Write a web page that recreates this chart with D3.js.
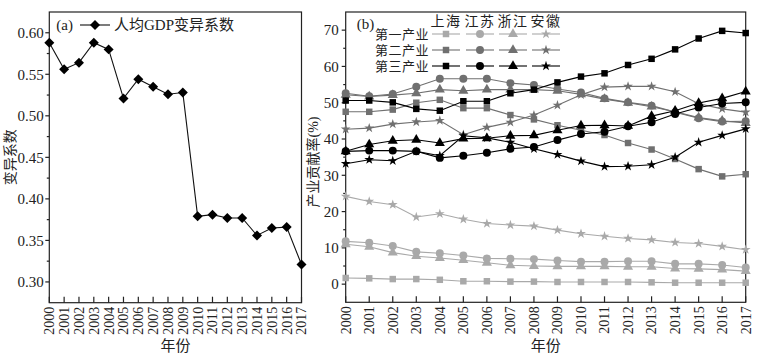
<!DOCTYPE html>
<html><head><meta charset="utf-8">
<script src="https://cdn.jsdelivr.net/npm/d3@7"></script>
<style>
body{margin:0;background:#fff;}
svg{display:block;}
text{font-family:"Liberation Serif","Noto Sans CJK SC",serif;fill:#222;}
</style></head>
<body>
<svg id="c" width="769" height="359"></svg>
<script>
const years = [2000,2001,2002,2003,2004,2005,2006,2007,2008,2009,2010,2011,2012,2013,2014,2015,2016,2017];
const cvGDP = [0.588,0.556,0.564,0.588,0.580,0.521,0.544,0.535,0.526,0.528,0.379,0.381,0.377,0.377,0.356,0.365,0.366,0.321];
const cvTicks = [0.30,0.35,0.40,0.45,0.50,0.55,0.60];

const regions = ["上海","江苏","浙江","安徽"];
const industries = ["第一产业","第二产业","第三产业"];
// 第一产业
const sh1 = [1.7,1.6,1.4,1.4,1.2,0.8,0.8,0.7,0.7,0.6,0.6,0.6,0.6,0.5,0.4,0.4,0.4,0.4];
const js1 = [11.8,11.4,10.5,8.9,8.5,7.9,7.1,7.0,6.9,6.5,6.2,6.2,6.3,6.3,5.6,5.6,5.3,4.6];
const zj1 = [11.0,10.3,8.7,7.7,7.2,6.6,5.9,5.2,5.0,4.9,4.9,4.9,4.8,4.8,4.3,4.2,4.0,3.6];
const ah1 = [24.2,22.8,21.9,18.5,19.4,17.9,16.7,16.3,16.0,14.9,13.9,13.2,12.6,12.2,11.5,11.2,10.4,9.5];
// 第二产业
const sh2 = [47.5,47.5,48.1,50.0,50.8,48.5,48.5,46.6,45.4,43.8,42.4,41.1,38.9,37.1,34.5,31.7,29.7,30.3];
const js2 = [52.6,51.8,52.4,54.4,56.6,56.6,56.6,55.4,54.9,53.8,52.8,51.2,50.1,49.2,47.4,45.7,44.8,44.9];
const zj2 = [52.2,51.7,52.1,52.6,53.6,53.3,53.6,53.6,53.6,53.3,52.3,51.0,50.0,48.9,47.5,45.9,45.0,44.4];
const ah2 = [42.7,43.0,44.1,44.7,45.1,41.2,43.2,44.6,46.6,49.3,52.2,54.3,54.5,54.5,53.0,49.7,48.3,47.4];
// 第三产业
const sh3 = [50.6,50.6,50.1,48.3,47.8,50.4,50.4,52.6,53.6,55.6,57.2,58.1,60.4,62.1,64.7,67.7,69.8,69.2];
const js3 = [36.6,36.8,36.8,36.6,34.8,35.4,36.2,37.3,37.8,39.7,41.4,42.0,43.5,44.6,46.9,48.7,49.8,50.1];
const zj3 = [36.6,38.5,39.5,39.8,38.9,40.1,40.2,40.9,41.0,42.4,43.7,43.8,43.6,46.3,47.8,49.9,51.2,53.1];
const ah3 = [33.2,34.3,34.0,36.6,35.4,40.9,40.3,39.1,37.3,35.7,33.9,32.4,32.5,32.9,35.0,39.1,41.0,42.8];
const contribTicks = [0,10,20,30,40,50,60,70];

const seriesB = [
  [sh1,js1,zj1,ah1],
  [sh2,js2,zj2,ah2],
  [sh3,js3,zj3,ah3]
];
const indColors = ["#a9a9a9","#707070","#000000"];
const symbols = [d3.symbolSquare, d3.symbolCircle, d3.symbolTriangle, d3.symbolStar];
const symSizes = [42, 50, 44, 30];

const svg = d3.select("#c");
const FS = 14;

function frame(g, x0, x1, y0, y1){
  g.append("rect").attr("x",x0).attr("y",y0).attr("width",x1-x0).attr("height",y1-y0)
   .attr("fill","none").attr("stroke","#222").attr("stroke-width",1.2);
}

function xAxis(g, x, yBottom){
  const ax = g.append("g").attr("transform",`translate(0,${yBottom})`);
  years.forEach(yr=>{
    ax.append("line").attr("x1",x(yr)).attr("x2",x(yr)).attr("y1",0).attr("y2",-6)
      .attr("stroke","#222").attr("stroke-width",1.2);
    ax.append("text").attr("transform",`translate(${x(yr)},4) rotate(-90)`)
      .attr("text-anchor","end").attr("dy","0.35em").attr("font-size",FS).text(yr);
  });
}

function yAxis(g, y, xLeft, ticks, minor, fmt, pad){
  ticks.forEach(t=>{
    g.append("line").attr("x1",xLeft-4).attr("x2",xLeft).attr("y1",y(t)).attr("y2",y(t))
      .attr("stroke","#222").attr("stroke-width",1.2);
    g.append("text").attr("x",xLeft-pad).attr("y",y(t)).attr("dy","0.35em")
      .attr("text-anchor","end").attr("font-size",FS+1).text(fmt(t));
  });
  minor.forEach(t=>{
    g.append("line").attr("x1",xLeft-2.5).attr("x2",xLeft).attr("y1",y(t)).attr("y2",y(t))
      .attr("stroke","#222").attr("stroke-width",1.2);
  });
}

// ---------- Panel (a) ----------
const A = {l:49.3, r:301.5, t:12, b:302.7};
const xa = d3.scaleLinear().domain([2000,2017]).range([A.l,A.r]);
const ya = d3.scaleLinear().domain([0.275,0.625]).range([A.b,A.t]);
const ga = svg.append("g");
frame(ga, A.l, A.r, A.t, A.b);
xAxis(ga, xa, A.b);
yAxis(ga, ya, A.l, cvTicks, cvTicks.slice(0,-1).map(t=>t+0.025), d3.format(".2f"), 5.5);
ga.append("path").datum(cvGDP)
  .attr("d", d3.line().x((d,i)=>xa(years[i])).y(d=>ya(d)))
  .attr("fill","none").attr("stroke","#111").attr("stroke-width",1.1);
const diamond = d3.symbol().type(d3.symbolSquare).size(50);
ga.selectAll(".dm").data(cvGDP).join("path")
  .attr("d", diamond())
  .attr("transform",(d,i)=>`translate(${xa(years[i])},${ya(d)}) rotate(45)`)
  .attr("fill","#000");
ga.append("text").attr("x",A.l+7).attr("y",25).attr("dy","0.35em").attr("font-size",FS+1).text("(a)");
ga.append("line").attr("x1",80).attr("x2",110).attr("y1",25).attr("y2",25).attr("stroke","#111").attr("stroke-width",1.1);
ga.append("path").attr("d",diamond()).attr("transform","translate(95,25) rotate(45)").attr("fill","#000");
ga.append("text").attr("x",114).attr("y",25).attr("dy","0.35em").attr("font-size",FS+1).text("人均GDP变异系数");
ga.append("text").attr("transform",`translate(10,${(A.t+A.b)/2}) rotate(-90)`)
  .attr("text-anchor","middle").attr("dy","0.35em").attr("font-size",FS).text("变异系数");
ga.append("text").attr("x",(A.l+A.r)/2).attr("y",346).attr("text-anchor","middle")
  .attr("dy","0.35em").attr("font-size",FS+1).text("年份");

// ---------- Panel (b) ----------
const B = {l:345.7, r:745.7, t:12, b:302.3};
const xb = d3.scaleLinear().domain([2000,2017]).range([B.l,B.r]);
const yb = d3.scaleLinear().domain([-5,75]).range([B.b,B.t]);
const gb = svg.append("g");
frame(gb, B.l, B.r, B.t, B.b);
xAxis(gb, xb, B.b);
yAxis(gb, yb, B.l, contribTicks, contribTicks.map(t=>t+5).filter(t=>t<75), d3.format("d"), 7);

const lineB = d3.line().x((d,i)=>xb(years[i])).y(d=>yb(d));
seriesB.forEach((row,ii)=>{
  row.forEach((vals,ri)=>{
    const g = gb.append("g");
    g.append("path").datum(vals).attr("d",lineB).attr("fill","none")
      .attr("stroke",indColors[ii]).attr("stroke-width",1.1);
    const sym = d3.symbol().type(symbols[ri]).size(symSizes[ri]);
    g.selectAll("path.m").data(vals).join("path").attr("class","m")
      .attr("d",sym()).attr("transform",(d,i)=>`translate(${xb(years[i])},${yb(d)})`)
      .attr("fill",indColors[ii]);
  });
});

// legend (b)
gb.append("text").attr("x",B.l+11).attr("y",24).attr("dy","0.35em").attr("font-size",FS+1).text("(b)");
const colX = [446,480,513,546];
const rowY = [34,50,66];
regions.forEach((r,ri)=>{
  gb.append("text").attr("x",colX[ri]).attr("y",21).attr("dy","0.35em").attr("text-anchor","middle")
    .attr("font-size",FS).attr("letter-spacing","1.5px").text(r);
});
industries.forEach((ind,ii)=>{
  gb.append("text").attr("x",429).attr("y",rowY[ii]).attr("dy","0.35em").attr("text-anchor","end")
    .attr("font-size",FS-1).attr("letter-spacing","0.5px").attr("fill","#333").text(ind);
  regions.forEach((r,ri)=>{
    gb.append("line").attr("x1",colX[ri]-14).attr("x2",colX[ri]+14).attr("y1",rowY[ii]).attr("y2",rowY[ii])
      .attr("stroke",indColors[ii]).attr("stroke-width",1.1);
    gb.append("path").attr("d",d3.symbol().type(symbols[ri]).size(symSizes[ri])())
      .attr("transform",`translate(${colX[ri]},${rowY[ii]})`).attr("fill",indColors[ii]);
  });
});
gb.append("text").attr("transform",`translate(313,162) rotate(-90)`)
  .attr("text-anchor","middle").attr("dy","0.35em").attr("font-size",FS).text("产业贡献率(%)");
gb.append("text").attr("x",(B.l+B.r)/2).attr("y",346).attr("text-anchor","middle")
  .attr("dy","0.35em").attr("font-size",FS+1).text("年份");
</script>
</body></html>
